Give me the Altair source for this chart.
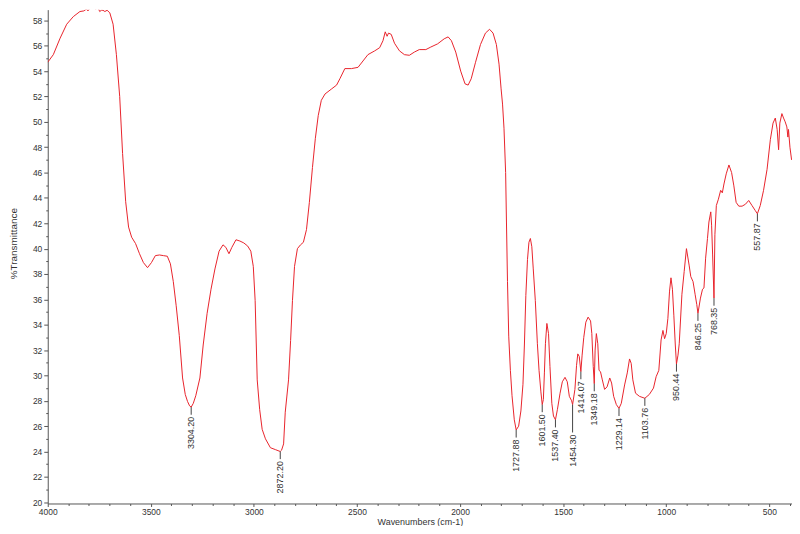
import altair as alt
import pandas as pd

wavenumber = [
    4000, 3973, 3940, 3908, 3876, 3844, 3825, 3812, 3805, 3796, 3780, 3767, 3756, 3748, 3740, 3732,
    3723, 3712, 3699, 3683, 3667, 3651, 3637, 3622, 3608, 3593, 3574, 3555, 3536, 3516, 3497, 3478,
    3458, 3439, 3420, 3405, 3391, 3377, 3362, 3346, 3333, 3322, 3312, 3304.2, 3294, 3282, 3262, 3246,
    3227, 3208, 3189, 3169, 3150, 3136, 3121, 3107, 3087, 3068, 3049, 3030, 3015, 3003, 2994, 2984,
    2972, 2960, 2944, 2920, 2896, 2872.2, 2866, 2856, 2848, 2832, 2822, 2813, 2803, 2789, 2774, 2760,
    2745, 2731, 2716, 2702, 2688, 2673, 2655, 2623, 2599, 2583, 2559, 2527, 2495, 2471, 2447, 2414,
    2390, 2374, 2363, 2354, 2347, 2334, 2318, 2294, 2270, 2246, 2222, 2198, 2166, 2142, 2109, 2077,
    2058, 2042, 2021, 1997, 1976, 1961, 1946, 1925, 1901, 1877, 1857, 1840, 1824, 1811, 1801, 1794,
    1787, 1779, 1775, 1770, 1764, 1756, 1748, 1737, 1727.88, 1716, 1705, 1695, 1688, 1681, 1673, 1666,
    1659, 1652, 1645, 1635, 1625, 1617, 1608, 1601.5, 1596, 1591, 1586, 1579, 1571, 1564, 1555, 1547,
    1537.4, 1528, 1515, 1504, 1491, 1480, 1470, 1459, 1454.3, 1443, 1435, 1429, 1422, 1414.07, 1408, 1400,
    1390, 1379, 1367, 1361, 1354, 1349.18, 1345, 1339, 1332, 1326, 1319, 1310, 1299, 1287, 1274, 1265,
    1255, 1242, 1229.14, 1218, 1202, 1189, 1178, 1170, 1162, 1149, 1130, 1103.76, 1082, 1062, 1049, 1036,
    1025, 1016, 1008, 1000, 992, 984, 977, 970, 963, 956, 950.44, 943, 937, 924, 913, 902,
    889, 881, 870, 860, 852, 846.25, 834, 824, 817, 809, 800, 793, 784, 780, 775, 768.35,
    764, 757, 747, 736, 728, 720, 709, 696, 683, 672, 661, 648, 632, 616, 600, 584,
    568, 557.87, 544, 528, 511, 495, 482, 471, 462, 455, 449, 439, 431, 423, 415, 410,
    407, 400, 392,
]

transmittance = [
    54.7, 55.3, 56.6, 57.7, 58.3, 58.7, 58.75, 58.9, 58.75, 58.95, 59.0, 58.9, 59.0, 58.7, 58.8, 58.8,
    58.7, 58.8, 58.6, 57.7, 55.3, 52.0, 47.5, 43.7, 41.7, 40.9, 40.4, 39.6, 38.9, 38.5, 38.9, 39.45,
    39.5, 39.45, 39.4, 38.8, 37.4, 35.5, 33.15, 29.8, 28.5, 27.95, 27.6, 27.5, 27.8, 28.4, 29.8, 32.4,
    34.9, 36.8, 38.4, 39.8, 40.3, 40.1, 39.6, 40.1, 40.7, 40.6, 40.45, 40.2, 39.8, 38.6, 35.9, 29.65,
    27.3, 25.75, 25.0, 24.3, 24.15, 24.0, 24.1, 24.6, 27.1, 29.65, 32.75, 35.9, 38.6, 40.0, 40.3, 40.5,
    41.5, 43.65, 46.4, 48.7, 50.5, 51.7, 52.2, 52.6, 52.9, 53.4, 54.2, 54.2, 54.3, 54.8, 55.3, 55.6,
    55.85, 56.4, 57.1, 56.75, 57.0, 56.9, 56.2, 55.6, 55.3, 55.25, 55.5, 55.7, 55.7, 55.9, 56.15, 56.55,
    56.7, 56.4, 55.5, 54.0, 53.0, 52.9, 53.4, 54.7, 56.1, 57.0, 57.3, 57.0, 56.1, 54.55, 52.6, 51.4,
    49.5, 46.0, 42.1, 37.4, 33.1, 30.4, 28.4, 26.5, 25.7, 26.0, 27.2, 29.3, 32.4, 36.3, 39.15, 40.5,
    40.8, 40.15, 38.4, 35.9, 32.5, 30.4, 28.7, 27.7, 28.1, 30.2, 32.5, 34.1, 33.3, 30.7, 27.8, 26.8,
    26.5, 27.3, 28.6, 29.5, 29.85, 29.5, 28.35, 28.0, 27.7, 28.9, 30.8, 31.7, 31.5, 30.3, 31.6, 33.0,
    34.2, 34.6, 34.3, 33.3, 30.7, 29.35, 32.0, 33.3, 32.5, 30.4, 30.3, 29.65, 28.9, 29.1, 29.8, 29.4,
    28.35, 27.7, 27.4, 27.8, 29.25, 30.2, 31.3, 30.95, 29.65, 28.6, 28.35, 28.2, 28.5, 29.0, 29.9, 30.4,
    32.8, 33.55, 32.9, 33.3, 34.5, 36.65, 37.7, 36.8, 34.7, 32.4, 30.9, 31.6, 32.5, 36.4, 38.2, 40.0,
    38.7, 37.8, 37.4, 36.4, 35.6, 34.9, 36.1, 36.8, 36.9, 39.25, 40.8, 42.1, 42.9, 41.85, 39.5, 36.1,
    41.1, 43.4, 43.9, 44.6, 44.4, 45.1, 45.9, 46.6, 46.0, 44.95, 43.65, 43.35, 43.35, 43.5, 43.8, 43.4,
    43.0, 42.75, 43.4, 44.6, 46.25, 48.6, 49.9, 50.3, 49.4, 47.8, 49.9, 50.65, 50.3, 50.0, 49.6, 48.8,
    49.4, 48.0, 47.0,
]

peak_text = ["3304.20", "2872.20", "1727.88", "1601.50", "1537.40", "1454.30", "1414.07",
             "1349.18", "1229.14", "1103.76", "950.44", "846.25", "768.35", "557.87"]
peak_wn = [3304.20, 2872.20, 1727.88, 1601.50, 1537.40, 1454.30, 1414.07,
           1349.18, 1229.14, 1103.76, 950.44, 846.25, 768.35, 557.87]
peak_T = [27.5, 24.0, 25.7, 27.7, 26.5, 27.7, 30.3, 29.35, 27.4, 28.2, 30.9, 34.9, 36.1, 42.75]
label_T = [26.9, 23.4, 25.1, 27.1, 25.9, 25.5, 29.7, 28.75, 26.8, 27.6, 30.3, 34.3, 35.5, 42.15]

x_ticks = list(range(4000, 399, -100))
y_ticks = [v / 2 for v in range(40, 118)]

spectrum = pd.DataFrame({"wn": wavenumber, "T": transmittance})
peaks = pd.DataFrame({"wn": peak_wn, "T": peak_T, "T2": label_T, "label": peak_text})

FONT = "Liberation Sans"

x_scale = alt.Scale(domain=[4000, 390], nice=False, zero=False)
y_scale = alt.Scale(domain=[19.9, 58.85], nice=False, zero=False)

x_axis = alt.Axis(
    values=x_ticks,
    labelExpr="datum.value % 500 === 0 ? datum.label : ''",
    tickSize={"condition": {"test": "datum.value % 500 === 0", "value": 3}, "value": 2},
    format="d",
    grid=False,
    labelOverlap=False,
    labelFlush=False,
    title="Wavenumbers (cm-1)",
    titleY=18,
    titleBaseline="middle",
    labelPadding=1,
)
y_axis = alt.Axis(
    values=y_ticks,
    labelExpr="datum.value % 2 === 0 ? datum.label : ''",
    tickSize={"condition": {"test": "datum.value % 2 === 0", "value": 4}, "value": 2},
    format="d",
    grid=False,
    labelOverlap=False,
    labelFlush=False,
    title="%Transmittance",
    titleX=-34,
    titleY=235,
    titleBaseline="middle",
    titleFontSize=10,
    labelPadding=2,
)

X = alt.X("wn:Q", scale=x_scale, axis=x_axis)

line = alt.Chart(spectrum).mark_line(color="#e8232b", strokeWidth=1, clip=True).encode(
    x=X,
    y=alt.Y("T:Q", scale=y_scale, axis=y_axis),
    order="wn:Q",
)

rules = alt.Chart(peaks).mark_rule(color="#444444", strokeWidth=1).encode(
    x=X,
    y=alt.Y("T:Q", scale=y_scale, axis=y_axis),
    y2="T2:Q",
)

texts = alt.Chart(peaks).mark_text(
    angle=270, align="right", baseline="middle", dx=-2,
    font=FONT, fontSize=9, color="#333333",
).encode(
    x=X,
    y=alt.Y("T2:Q", scale=y_scale, axis=y_axis),
    text="label:N",
)

chart = alt.layer(line, rules, texts).properties(
    width=749,
    height=497,
    autosize="none",
    padding={"left": 40, "top": 0, "right": 0, "bottom": 21},
    background="white",
).configure_view(strokeWidth=0).configure_axis(
    labelFont=FONT,
    titleFont=FONT,
    labelFontSize=8.5,
    titleFontSize=9,
    titleFontWeight="normal",
    labelColor="#333333",
    titleColor="#333333",
    domainColor="#555555",
    tickColor="#555555",
    labelOverlap=False,
)

chart.save("out.html", embed_options={"renderer": "svg", "actions": False})
